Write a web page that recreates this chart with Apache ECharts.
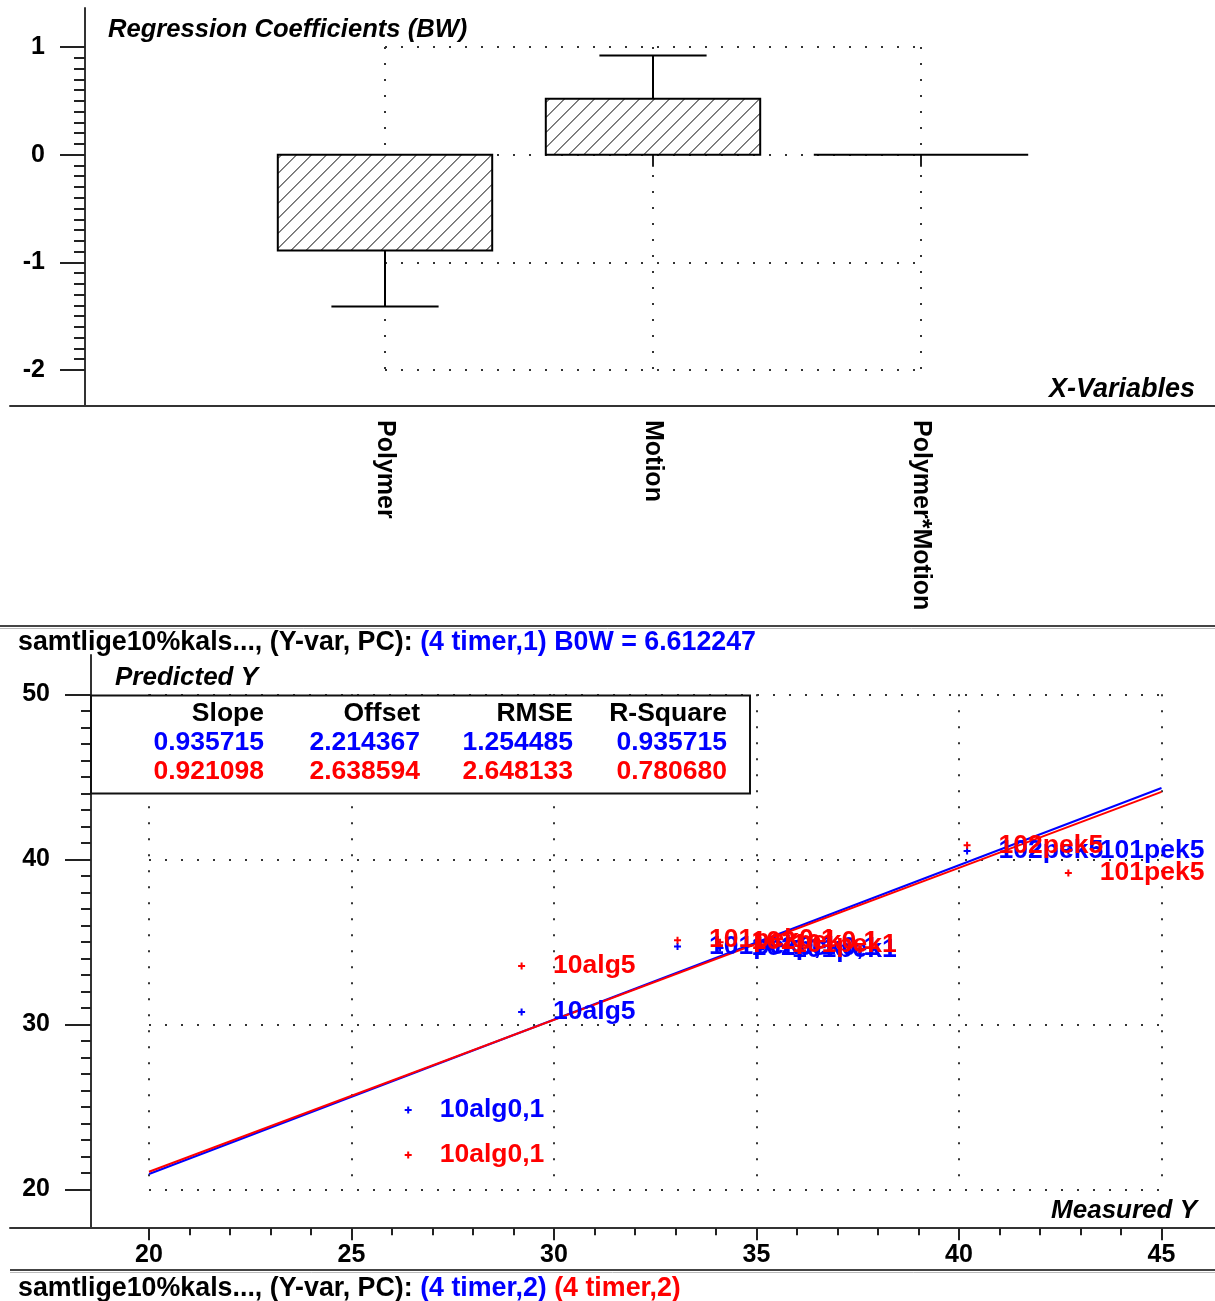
<!DOCTYPE html>
<html>
<head>
<meta charset="utf-8">
<script src="https://cdn.jsdelivr.net/npm/echarts@6/dist/echarts.min.js"></script>
<style>
  html, body { margin: 0; padding: 0; background: #fff; }
  #chart { width: 1215px; height: 1301px; }
</style>
</head>
<body>
<div id="chart"></div>
<script>
// ---- Regression coefficients (upper panel) ----
const xVariables = ['Polymer', 'Motion', 'Polymer*Motion'];
const coefficients = [-0.89, 0.52, 0.0];
const coefLimits = [-1.41, 0.92, 0.0];   // end of the uncertainty whisker

// ---- Predicted vs measured (lower panel) ----
const sampleNames   = ['10alg0,1', '10alg5', '101pek0,1', '102pek0,1', '101pek1', '102pek5', '101pek5'];
const measuredY     = [26.4, 29.2, 33.05, 34.1, 35.1, 40.2, 42.7];
const predictedBlue = [24.8, 30.75, 34.72, 34.62, 34.55, 40.5, 40.5];
const predictedRed  = [22.08, 33.53, 35.1, 34.98, 34.85, 40.85, 39.17];
const measuredRange = [20, 45];

const fitHeaders = ['Slope', 'Offset', 'RMSE', 'R-Square'];
const fitBlue = [0.935715, 2.214367, 1.254485, 0.935715];
const fitRed  = [0.921098, 2.638594, 2.648133, 0.780680];
const b0wValue = 6.612247;

const BLUE = '#0000ff', RED = '#ff0000', INK = '#222';
const FONT = "'Liberation Sans', Arial, sans-serif";

const chart = echarts.init(document.getElementById('chart'), null, { renderer: 'canvas' });

// hatched box + whisker for one coefficient
function renderCoef(params, api) {
  const x = api.value(0), v = api.value(1), lim = api.value(2);
  const a = api.coord([x - 0.4, Math.max(v, 0)]);
  const b = api.coord([x + 0.4, Math.min(v, 0)]);
  const x0 = a[0], y0 = a[1], w = b[0] - a[0], h = b[1] - a[1];
  const kids = [];
  if (h >= 1) {
    kids.push({ type: 'rect', shape: { x: x0, y: y0, width: w, height: h }, style: { fill: '#fff' } });
    const step = 15;
    for (let c = x0 + y0 + 4; c < x0 + w + y0 + h; c += step) {
      const xa = Math.max(x0, c - y0 - h), xb = Math.min(x0 + w, c - y0);
      if (xb > xa) {
        kids.push({ type: 'line', shape: { x1: xa, y1: c - xa, x2: xb, y2: c - xb },
                    style: { stroke: '#000', lineWidth: 1 } });
      }
    }
    kids.push({ type: 'rect', shape: { x: x0, y: y0, width: w, height: h },
                style: { fill: null, stroke: '#000', lineWidth: 2 } });
  } else {
    kids.push({ type: 'line', shape: { x1: x0, y1: y0, x2: x0 + w, y2: y0 },
                style: { stroke: '#000', lineWidth: 2 } });
  }
  if (lim !== v) {
    const p = api.coord([x, v]), q = api.coord([x, lim]);
    const c1 = api.coord([x - 0.2, lim]), c2 = api.coord([x + 0.2, lim]);
    kids.push({ type: 'line', shape: { x1: p[0], y1: p[1], x2: q[0], y2: q[1] }, style: { stroke: '#000', lineWidth: 2 } });
    kids.push({ type: 'line', shape: { x1: c1[0], y1: c1[1], x2: c2[0], y2: c2[1] }, style: { stroke: '#000', lineWidth: 2 } });
  }
  return { type: 'group', children: kids };
}

const dotted = { show: true, lineStyle: { color: '#333', width: 2, type: [2, 14] } };
const boldText = { fontFamily: FONT, fontWeight: 'bold', fontSize: 25, color: '#000' };
const frameLine = { show: true, onZero: false, lineStyle: { color: '#333', width: 2 } };
const hidden = { axisTick: { show: false }, axisLabel: { show: false }, splitLine: { show: false } };

// fit statistics table
const rich = {};
const colW = [173, 156, 153, 154];
colW.forEach((wd, i) => {
  rich['h' + i] = { width: wd, align: 'right', color: '#000' };
  rich['b' + i] = { width: wd, align: 'right', color: BLUE };
  rich['r' + i] = { width: wd, align: 'right', color: RED };
});
const fitTable = [
  fitHeaders.map((t, i) => `{h${i}|${t}}`).join(''),
  fitBlue.map((t, i) => `{b${i}|${t.toFixed(6)}}`).join(''),
  fitRed.map((t, i) => `{r${i}|${t.toFixed(6)}}`).join('')
].join('\n');

const fitLine = (s, o) => measuredRange.map(x => [x, o + s * x]);

const option = {
  animation: false,
  backgroundColor: '#fff',
  grid: [
    { left: 10, right: 0, top: 8, height: 398 },
    { left: 385, width: 536, top: 47, height: 323 },
    { left: 10, right: 0, top: 655, height: 573 },
    { left: 149, width: 1012.5, top: 694.3, height: 495 }
  ],
  xAxis: [
    { gridIndex: 0, type: 'value', min: -75, max: 1130, axisLine: frameLine, ...hidden },
    { gridIndex: 1, type: 'value', min: 1, max: 3, interval: 1, position: 'bottom', offset: 36,
      axisLine: { show: false },
      axisTick: { show: true, length: 12, lineStyle: { color: INK, width: 2 } },
      axisLabel: { ...boldText, rotate: -90, margin: 14, formatter: v => xVariables[v - 1] || '' },
      splitLine: dotted },
    { gridIndex: 2, type: 'value', min: -81, max: 1124, axisLine: frameLine, ...hidden },
    { gridIndex: 3, type: 'value', min: measuredRange[0], max: measuredRange[1], interval: 5,
      position: 'bottom', offset: 39,
      axisLine: { show: false },
      axisTick: { show: true, length: 12, lineStyle: { color: INK, width: 2 } },
      minorTick: { show: true, splitNumber: 5, length: 7, lineStyle: { color: INK, width: 2 } },
      axisLabel: { ...boldText, margin: 14 },
      splitLine: dotted }
  ],
  yAxis: [
    { gridIndex: 0, type: 'value', min: 0, max: 1,
      axisLine: { show: true, onZero: true, lineStyle: { color: '#333', width: 2 } }, ...hidden },
    { gridIndex: 1, type: 'value', min: -2, max: 1, interval: 1, position: 'left', offset: 300,
      axisLine: { show: false },
      axisTick: { show: true, length: 25, lineStyle: { color: INK, width: 2 } },
      minorTick: { show: true, splitNumber: 10, length: 11, lineStyle: { color: INK, width: 2 } },
      axisLabel: { ...boldText, margin: 40 },
      splitLine: dotted },
    { gridIndex: 2, type: 'value', min: 0, max: 1,
      axisLine: { show: true, onZero: true, lineStyle: { color: '#333', width: 2 } }, ...hidden },
    { gridIndex: 3, type: 'value', min: 20, max: 50, interval: 10, position: 'left', offset: 58,
      axisLine: { show: false },
      axisTick: { show: true, length: 26, lineStyle: { color: INK, width: 2 } },
      minorTick: { show: true, splitNumber: 10, length: 10, lineStyle: { color: INK, width: 2 } },
      axisLabel: { ...boldText, margin: 41 },
      splitLine: dotted }
  ],
  title: [
    { text: 'Regression Coefficients (BW)', left: 108, top: 16, padding: 0,
      textStyle: { ...boldText, fontSize: 25.6, fontStyle: 'italic', lineHeight: 28 } },
    { text: 'X-Variables', right: 20, top: 376, padding: 0,
      textStyle: { ...boldText, fontSize: 27, fontStyle: 'italic', lineHeight: 28 } },
    { text: `{k|samtlige10%kals..., (Y-var, PC): }{b|(4 timer,1) B0W = ${b0wValue.toFixed(6)}}`,
      left: 18, top: 629, padding: 0,
      textStyle: { ...boldText, fontSize: 26.8, lineHeight: 28, rich: { k: { color: '#000' }, b: { color: BLUE } } } },
    { text: 'Predicted Y', left: 115, top: 664, padding: 0,
      textStyle: { ...boldText, fontSize: 26, fontStyle: 'italic', lineHeight: 28 } },
    { text: 'Measured Y', right: 18, top: 1197, padding: 0,
      textStyle: { ...boldText, fontSize: 26, fontStyle: 'italic', lineHeight: 28 } },
    { text: '{k|samtlige10%kals..., (Y-var, PC): }{b|(4 timer,2)} {r|(4 timer,2)}',
      left: 18, top: 1275, padding: 0,
      textStyle: { ...boldText, fontSize: 26.8, lineHeight: 28, rich: { k: { color: '#000' }, b: { color: BLUE }, r: { color: RED } } } },
    { text: fitTable, left: 91, top: 695, padding: [4.5, 23, 7.5, 0],
      backgroundColor: '#fff', borderColor: '#111', borderWidth: 2,
      textStyle: { ...boldText, fontSize: 26.5, lineHeight: 29, rich } }
  ],
  graphic: [
    { type: 'line', shape: { x1: 0, y1: 626, x2: 1215, y2: 626 }, style: { stroke: '#444', lineWidth: 2 } },
    { type: 'line', shape: { x1: 0, y1: 628.5, x2: 1215, y2: 628.5 }, style: { stroke: '#bbb', lineWidth: 1 } },
    { type: 'line', shape: { x1: 10, y1: 1270, x2: 1215, y2: 1270 }, style: { stroke: '#444', lineWidth: 2 } },
    { type: 'line', shape: { x1: 10, y1: 1272.5, x2: 1215, y2: 1272.5 }, style: { stroke: '#bbb', lineWidth: 1 } }
  ],
  series: [
    { type: 'custom', xAxisIndex: 1, yAxisIndex: 1, clip: false, renderItem: renderCoef,
      data: xVariables.map((n, i) => [i + 1, coefficients[i], coefLimits[i]]), z: 3 },
    { type: 'line', xAxisIndex: 3, yAxisIndex: 3, data: fitLine(fitBlue[0], fitBlue[1]),
      showSymbol: false, symbol: 'none', lineStyle: { color: BLUE, width: 2 }, z: 2 },
    { type: 'line', xAxisIndex: 3, yAxisIndex: 3, data: fitLine(fitRed[0], fitRed[1]),
      showSymbol: false, symbol: 'none', lineStyle: { color: RED, width: 2 }, z: 2 },
    ...[[predictedBlue, BLUE], [predictedRed, RED]].map(([pred, col]) => ({
      type: 'scatter', xAxisIndex: 3, yAxisIndex: 3, z: 4,
      symbol: 'path://M2.5,0h2v2.5h2.5v2h-2.5v2.5h-2v-2.5h-2.5v-2h2.5z', symbolSize: 7,
      itemStyle: { color: col, opacity: 1 },
      emphasis: { disabled: true },
      label: { show: true, position: 'right', distance: 28, formatter: '{b}',
               ...boldText, fontSize: 26.5, color: col, opacity: 1 },
      data: sampleNames.map((n, i) => ({ name: n, value: [measuredY[i], pred[i]] }))
    }))
  ]
};
chart.setOption(option);
</script>
</body>
</html>
